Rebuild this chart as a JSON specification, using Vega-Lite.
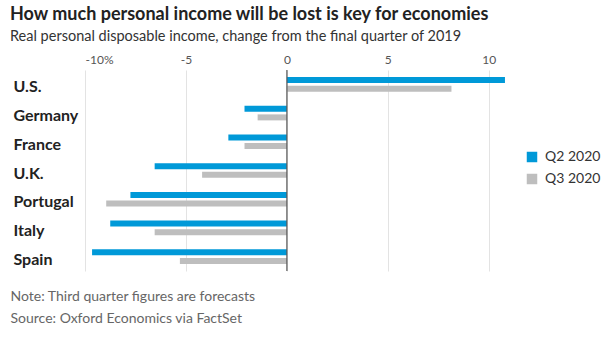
{
  "$schema": "https://vega.github.io/schema/vega-lite/v6.json",
  "width": 424,
  "height": 201,
  "autosize": {"type": "none"},
  "padding": {"left": 85, "top": 70, "right": 96, "bottom": 75},
  "background": "white",
  "config": {
    "view": {"stroke": null},
    "font": "Lato"
  },
  "title": {
    "text": "How much personal income will be lost is key for economies",
    "subtitle": "Real personal disposable income, change from the final quarter of 2019",
    "anchor": "start",
    "frame": "group",
    "dx": -75,
    "font": "Lato",
    "fontSize": 18,
    "fontWeight": "bold",
    "color": "#222222",
    "subtitleFont": "Lato",
    "subtitleFontSize": 14.5,
    "subtitleColor": "#333333",
    "subtitlePadding": 6,
    "offset": 10
  },
  "data": {
    "values": [
      {"country": "U.S.", "quarter": "Q2 2020", "value": 10.8},
      {"country": "U.S.", "quarter": "Q3 2020", "value": 8.15},
      {"country": "Germany", "quarter": "Q2 2020", "value": -2.1},
      {"country": "Germany", "quarter": "Q3 2020", "value": -1.45},
      {"country": "France", "quarter": "Q2 2020", "value": -2.9},
      {"country": "France", "quarter": "Q3 2020", "value": -2.1},
      {"country": "U.K.", "quarter": "Q2 2020", "value": -6.55},
      {"country": "U.K.", "quarter": "Q3 2020", "value": -4.2},
      {"country": "Portugal", "quarter": "Q2 2020", "value": -7.75},
      {"country": "Portugal", "quarter": "Q3 2020", "value": -8.95},
      {"country": "Italy", "quarter": "Q2 2020", "value": -8.75},
      {"country": "Italy", "quarter": "Q3 2020", "value": -6.55},
      {"country": "Spain", "quarter": "Q2 2020", "value": -9.65},
      {"country": "Spain", "quarter": "Q3 2020", "value": -5.3}
    ]
  },
  "layer": [
    {
      "mark": {"type": "bar", "size": 6},
      "encoding": {
        "y": {
          "field": "country",
          "type": "nominal",
          "sort": ["U.S.", "Germany", "France", "U.K.", "Portugal", "Italy", "Spain"],
          "scale": {"paddingInner": 0.4, "paddingOuter": 0.2},
          "axis": {
            "title": null,
            "domain": false,
            "ticks": false,
            "labelAlign": "left",
            "labelPadding": 72,
            "labelOffset": 3,
            "labelFont": "Lato",
            "labelFontSize": 16,
            "labelFontWeight": "bold",
            "labelColor": "#222222"
          }
        },
        "x": {
          "field": "value",
          "type": "quantitative",
          "scale": {"domain": [-10, 11], "nice": false, "zero": false},
          "axis": {
            "orient": "top",
            "title": null,
            "domain": false,
            "ticks": false,
            "tickSize": 0,
            "values": [-10, -5, 0, 5, 10],
            "labelExpr": "datum.value == -10 ? '-10%' : datum.value == -5 ? '-5' : datum.label",
            "labelPadding": 4,
            "labelFont": "Lato",
            "labelFontSize": 12,
            "labelColor": "#555555",
            "grid": true,
            "gridColor": "#e3e3e3",
            "gridWidth": 1
          }
        },
        "yOffset": {"field": "quarter", "type": "nominal", "scale": {"padding": 0}},
        "color": {
          "field": "quarter",
          "type": "nominal",
          "scale": {"domain": ["Q2 2020", "Q3 2020"], "range": ["#0099d8", "#bebebe"]},
          "legend": {
            "title": null,
            "orient": "none",
            "legendX": 440,
            "legendY": 80,
            "symbolType": "square",
            "symbolSize": 110,
            "symbolStrokeWidth": 0,
            "symbolOpacity": 1,
            "rowPadding": 8,
            "labelFont": "Lato",
            "labelFontSize": 14,
            "labelColor": "#333333",
            "labelOffset": 6
          }
        }
      }
    },
    {
      "data": {"values": [{"x": 0}]},
      "mark": {"type": "rule", "color": "#555555", "strokeWidth": 1.2},
      "encoding": {
        "x": {
          "field": "x",
          "type": "quantitative",
          "axis": {
            "orient": "bottom",
            "domain": false,
            "ticks": false,
            "labels": false,
            "grid": false,
            "title": ["Note: Third quarter figures are forecasts", "Source: Oxford Economics via FactSet"],
            "titleFont": "Lato",
            "titleFontSize": 14,
            "titleFontWeight": "normal",
            "titleColor": "#666666",
            "titleAnchor": "start",
            "titleAlign": "left",
            "titleBaseline": "top",
            "titleLineHeight": 22,
            "titleX": -75,
            "titleY": 18
          }
        }
      }
    }
  ],
  "resolve": {"axis": {"x": "independent"}}
}
